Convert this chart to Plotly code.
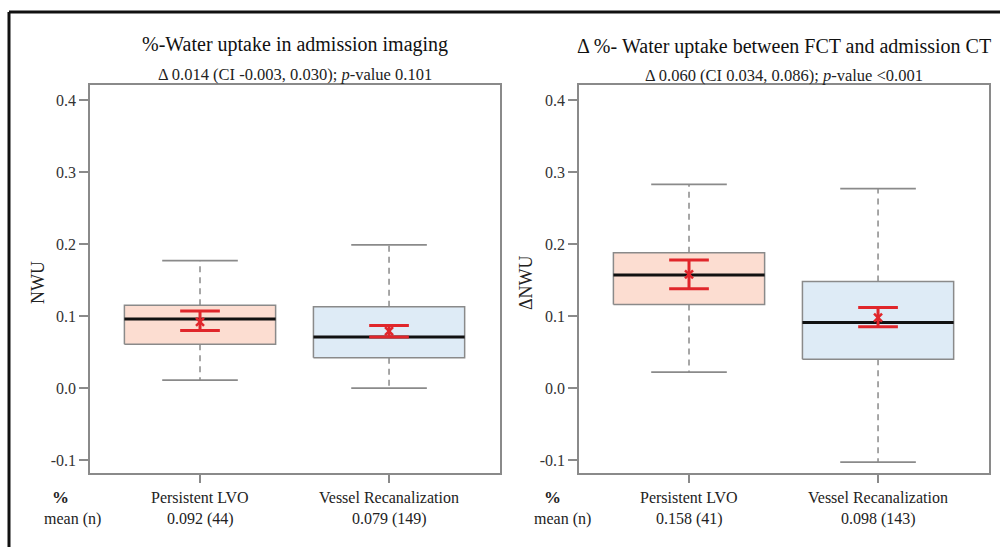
import plotly.graph_objects as go

# ---- data ----
groups = ["Persistent LVO", "Vessel Recanalization"]
positions = [1, 2]

# Panel 1: %-Water uptake in admission imaging (NWU)
p1_lower = [0.011, 0.000]
p1_q1 = [0.061, 0.042]
p1_median = [0.096, 0.071]
p1_q3 = [0.115, 0.113]
p1_upper = [0.177, 0.199]
p1_mean = [0.092, 0.079]
p1_ci_lo = [0.080, 0.071]
p1_ci_hi = [0.107, 0.087]
p1_n = [44, 149]

# Panel 2: delta %-Water uptake between FCT and admission CT (ΔNWU)
p2_lower = [0.022, -0.103]
p2_q1 = [0.116, 0.040]
p2_median = [0.157, 0.091]
p2_q3 = [0.188, 0.148]
p2_upper = [0.283, 0.277]
p2_mean = [0.158, 0.098]
p2_ci_lo = [0.138, 0.085]
p2_ci_hi = [0.178, 0.112]
p2_n = [41, 143]

titles = ["%-Water uptake in admission imaging",
          "Δ %- Water uptake between FCT and admission CT"]
subtitles = ["Δ 0.014 (CI -0.003, 0.030); <i>p</i>-value 0.101",
             "Δ 0.060 (CI 0.034, 0.086); <i>p</i>-value <0.001"]
ytitles = ["NWU", "ΔNWU"]
yticks = [-0.1, 0.0, 0.1, 0.2, 0.3, 0.4]

# ---- style ----
FONT = "'Liberation Serif', 'DejaVu Serif', 'Times New Roman', serif"
GRAY = "#8a8a8a"
RED = "#e0262b"
FILLS = ["#fcddd1", "#deebf6"]
BOX_HALF = 0.4
CAP_HALF = 0.2
CI_HALF = 0.105

W, H = 1000, 547
def px(x):
    return x / W
def py(y):
    return 1 - y / H

fig = go.Figure()

panels = [
    dict(lower=p1_lower, q1=p1_q1, med=p1_median, q3=p1_q3, upper=p1_upper,
         mean=p1_mean, lo=p1_ci_lo, hi=p1_ci_hi, n=p1_n, xa="x", ya="y"),
    dict(lower=p2_lower, q1=p2_q1, med=p2_median, q3=p2_q3, upper=p2_upper,
         mean=p2_mean, lo=p2_ci_lo, hi=p2_ci_hi, n=p2_n, xa="x2", ya="y2"),
]

for pdata in panels:
    for i, p in enumerate(positions):
        kw = dict(xaxis=pdata["xa"], yaxis=pdata["ya"], showlegend=False,
                  hoverinfo="skip", mode="lines")
        # dashed whiskers
        fig.add_trace(go.Scatter(
            x=[p, p, None, p, p],
            y=[pdata["q3"][i], pdata["upper"][i], None, pdata["q1"][i], pdata["lower"][i]],
            line=dict(color=GRAY, width=1.5, dash="6px,5px"), **kw))
        # caps
        fig.add_trace(go.Scatter(
            x=[p - CAP_HALF, p + CAP_HALF, None, p - CAP_HALF, p + CAP_HALF],
            y=[pdata["upper"][i]] * 2 + [None] + [pdata["lower"][i]] * 2,
            line=dict(color=GRAY, width=1.8), **kw))
        # box
        fig.add_trace(go.Scatter(
            x=[p - BOX_HALF, p + BOX_HALF, p + BOX_HALF, p - BOX_HALF, p - BOX_HALF],
            y=[pdata["q1"][i], pdata["q1"][i], pdata["q3"][i], pdata["q3"][i], pdata["q1"][i]],
            fill="toself", fillcolor=FILLS[i],
            line=dict(color=GRAY, width=1.5), **kw))
        # median
        fig.add_trace(go.Scatter(
            x=[p - BOX_HALF, p + BOX_HALF],
            y=[pdata["med"][i]] * 2,
            line=dict(color="#111111", width=3), **kw))
        # CI
        fig.add_trace(go.Scatter(
            x=[p, p, None, p - CI_HALF, p + CI_HALF, None, p - CI_HALF, p + CI_HALF],
            y=[pdata["lo"][i], pdata["hi"][i], None,
               pdata["hi"][i], pdata["hi"][i], None,
               pdata["lo"][i], pdata["lo"][i]],
            line=dict(color=RED, width=3), **kw))
        # mean marker
        fig.add_trace(go.Scatter(
            x=[p], y=[pdata["mean"][i]], mode="markers",
            marker=dict(symbol="x-thin-open", size=8, color=RED,
                        line=dict(color=RED, width=2.5)),
            xaxis=pdata["xa"], yaxis=pdata["ya"], showlegend=False, hoverinfo="skip"))

ydom = [py(473), py(85)]
xdoms = [[px(90), px(500)], [px(579), px(989)]]
xrange_ = [0.418, 2.587]
yrange_ = [-0.118, 0.421]

axis_common_x = dict(range=xrange_, tickvals=positions, ticktext=["", ""],
                     ticks="outside", ticklen=8, tickwidth=1.5, tickcolor=GRAY,
                     showline=True, linecolor=GRAY, linewidth=1.5, mirror=True,
                     showgrid=False, zeroline=False, fixedrange=True)
axis_common_y = dict(range=yrange_, domain=ydom, tickvals=yticks,
                     ticktext=[f"{v:.1f}" for v in yticks],
                     ticks="outside", ticklen=9, tickwidth=1.5, tickcolor=GRAY,
                     tickfont=dict(family=FONT, size=16, color="#333333"),
                     showline=True, linecolor=GRAY, linewidth=1.5, mirror=True,
                     showgrid=False, zeroline=False, fixedrange=True)

fig.update_layout(
    width=W, height=H, autosize=False,
    margin=dict(l=0, r=0, t=0, b=0),
    paper_bgcolor="white", plot_bgcolor="white",
    font=dict(family=FONT, color="#222222"),
    xaxis=dict(domain=xdoms[0], anchor="y", **axis_common_x),
    yaxis=dict(anchor="x", **axis_common_y),
    xaxis2=dict(domain=xdoms[1], anchor="y2", **axis_common_x),
    yaxis2=dict(anchor="x2", **axis_common_y),
)

ann = []
title_y = [44, 46]
sub_y = [74, 75]
ytitle_x = [38, 526]
pct_x = [60, 552]
mean_x = [72, 562]
xrefs = ["x", "x2"]
for k in range(2):
    cx = (xdoms[k][0] + xdoms[k][1]) / 2
    ann.append(dict(x=cx, y=py(title_y[k]), xref="paper", yref="paper",
                    text=titles[k], showarrow=False, xanchor="center", yanchor="middle",
                    font=dict(family=FONT, size=20, color="#111111")))
    ann.append(dict(x=cx, y=py(sub_y[k]), xref="paper", yref="paper",
                    text=subtitles[k], showarrow=False, xanchor="center", yanchor="middle",
                    font=dict(family=FONT, size=16.5, color="#222222")))
    ann.append(dict(x=px(ytitle_x[k]), y=py(283), xref="paper", yref="paper",
                    text=ytitles[k], showarrow=False, textangle=-90,
                    xanchor="center", yanchor="middle",
                    font=dict(family=FONT, size=18, color="#222222")))
    ann.append(dict(x=px(pct_x[k]), y=py(497), xref="paper", yref="paper",
                    text="<b>%</b>", showarrow=False, xanchor="center", yanchor="middle",
                    font=dict(family=FONT, size=17, color="#222222")))
    ann.append(dict(x=px(mean_x[k]), y=py(519), xref="paper", yref="paper",
                    text="mean (n)", showarrow=False, xanchor="center", yanchor="middle",
                    font=dict(family=FONT, size=16, color="#222222")))
    pdata = panels[k]
    for i, p in enumerate(positions):
        ann.append(dict(x=p, y=py(497), xref=xrefs[k], yref="paper",
                        text=groups[i], showarrow=False, xanchor="center", yanchor="middle",
                        font=dict(family=FONT, size=16, color="#222222")))
        ann.append(dict(x=p, y=py(519), xref=xrefs[k], yref="paper",
                        text=f"{pdata['mean'][i]:.3f} ({pdata['n'][i]})",
                        showarrow=False, xanchor="center", yanchor="middle",
                        font=dict(family=FONT, size=16, color="#222222")))
fig.update_layout(annotations=ann)

# outer black frame (top and left edges visible)
fig.add_shape(type="line", xref="paper", yref="paper",
              x0=px(9), x1=1.01, y0=py(12), y1=py(12),
              line=dict(color="#111111", width=3))
fig.add_shape(type="line", xref="paper", yref="paper",
              x0=px(9), x1=px(9), y0=py(12), y1=-0.01,
              line=dict(color="#111111", width=3))

fig.write_html("out.html")
